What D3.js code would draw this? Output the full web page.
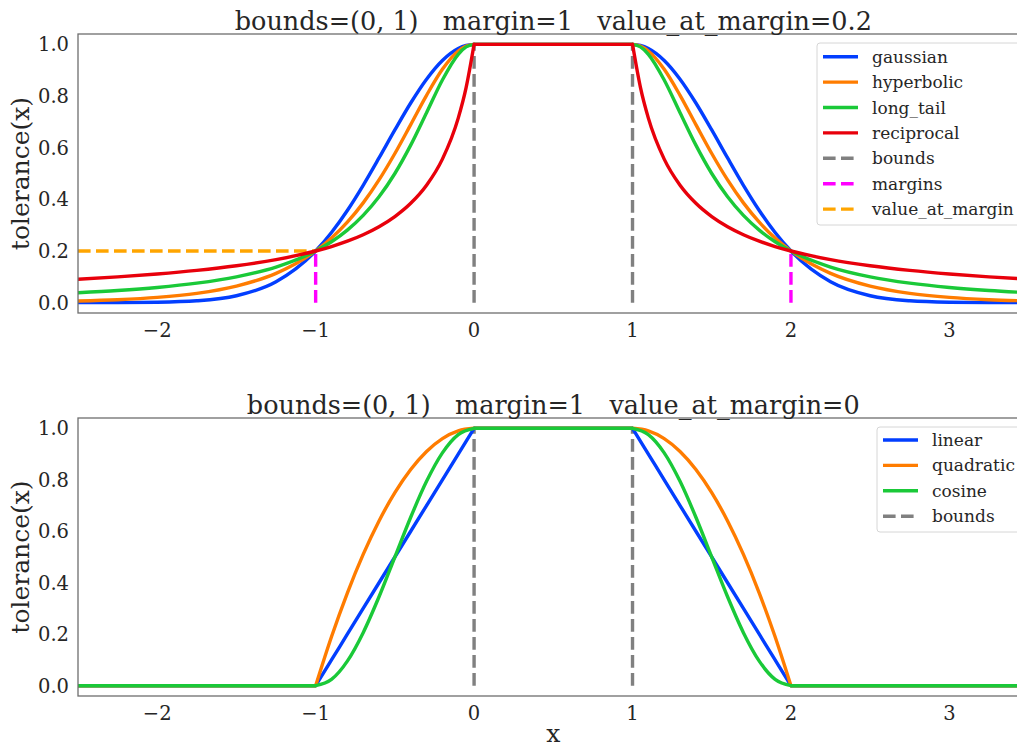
<!DOCTYPE html>
<html>
<head>
<meta charset="utf-8">
<script src="https://cdn.jsdelivr.net/npm/d3@7"></script>
<style>
  body { margin: 0; background: #fff; }
  text { font-family: "DejaVu Serif", serif; fill: #262626; }
</style>
</head>
<body>
<script>
// top panel: value_at_margin = 0.2
var xTop = [-2.5, -2.25, -2, -1.75, -1.5, -1.25, -1, -0.9, -0.8, -0.7, -0.6, -0.5, -0.4, -0.3, -0.2, -0.1, -0.05, 0,
    0.5,
    1, 1.05, 1.1, 1.2, 1.3, 1.4, 1.5, 1.6, 1.7, 1.8, 1.9, 2, 2.25, 2.5, 2.75, 3, 3.25, 3.5];
var gaussian = [0.0000, 0.0003, 0.0016, 0.0072, 0.0267, 0.0809, 0.2000, 0.2716, 0.3570, 0.4545, 0.5602, 0.6687, 0.7730, 0.8651, 0.9377, 0.9840, 0.9960, 1,
    1,
    1, 0.9960, 0.9840, 0.9377, 0.8651, 0.7730, 0.6687, 0.5602, 0.4545, 0.3570, 0.2716, 0.2000, 0.0809, 0.0267, 0.0072, 0.0016, 0.0003, 0.0000];
var hyperbolic = [0.0065, 0.0115, 0.0204, 0.0362, 0.0642, 0.1135, 0.2000, 0.2501, 0.3116, 0.3863, 0.4752, 0.5774, 0.6893, 0.8026, 0.9034, 0.9743, 0.9935, 1,
    1,
    1, 0.9935, 0.9743, 0.9034, 0.8026, 0.6893, 0.5774, 0.4752, 0.3863, 0.3116, 0.2501, 0.2000, 0.1135, 0.0642, 0.0362, 0.0204, 0.0115, 0.0065];
var longTail = [0.0385, 0.0471, 0.0588, 0.0755, 0.1000, 0.1379, 0.2000, 0.2358, 0.2809, 0.3378, 0.4098, 0.5000, 0.6098, 0.7353, 0.8621, 0.9615, 0.9901, 1,
    1,
    1, 0.9901, 0.9615, 0.8621, 0.7353, 0.6098, 0.5000, 0.4098, 0.3378, 0.2809, 0.2358, 0.2000, 0.1379, 0.1000, 0.0755, 0.0588, 0.0471, 0.0385];
var reciprocal = [0.0909, 0.1000, 0.1111, 0.1250, 0.1429, 0.1667, 0.2000, 0.2174, 0.2381, 0.2632, 0.2941, 0.3333, 0.3846, 0.4545, 0.5556, 0.7143, 0.8333, 1,
    1,
    1, 0.8333, 0.7143, 0.5556, 0.4545, 0.3846, 0.3333, 0.2941, 0.2632, 0.2381, 0.2174, 0.2000, 0.1667, 0.1429, 0.1250, 0.1111, 0.1000, 0.0909];

// bottom panel: value_at_margin = 0
var xBottom = [-2.5, -1, -0.9, -0.8, -0.7, -0.6, -0.5, -0.4, -0.3, -0.2, -0.1, 0, 0.5, 1, 1.1, 1.2, 1.3, 1.4, 1.5, 1.6, 1.7, 1.8, 1.9, 2, 3.5];
var linear = [0, 0, 0.1, 0.2, 0.3, 0.4, 0.5, 0.6, 0.7, 0.8, 0.9, 1, 1, 1, 0.9, 0.8, 0.7, 0.6, 0.5, 0.4, 0.3, 0.2, 0.1, 0, 0];
var quadratic = [0, 0, 0.19, 0.36, 0.51, 0.64, 0.75, 0.84, 0.91, 0.96, 0.99, 1, 1, 1, 0.99, 0.96, 0.91, 0.84, 0.75, 0.64, 0.51, 0.36, 0.19, 0, 0];
var cosine = [0, 0, 0.0245, 0.0955, 0.2061, 0.3455, 0.5, 0.6545, 0.7939, 0.9045, 0.9755, 1, 1, 1, 0.9755, 0.9045, 0.7939, 0.6545, 0.5, 0.3455, 0.2061, 0.0955, 0.0245, 0, 0];

var bounds = [0, 1];
var margins = [-1, 2];
var valueAtMargin = 0.2;
var xTicks = [-2, -1, 0, 1, 2, 3];
var yTicks = [0, 0.2, 0.4, 0.6, 0.8, 1.0];
var xDomain = [-2.5, 3.5];

var colors = {
    gaussian: "#023eff", hyperbolic: "#ff7c00", long_tail: "#1ac938", reciprocal: "#e8000b",
    linear: "#023eff", quadratic: "#ff7c00", cosine: "#1ac938",
    bounds: "#808080", margins: "#ff00ff", value_at_margin: "#ffa500"
};

(function () {
    var W = 1017, H = 747;
    var left = 78, right = 1028.6;
    var lw = 3.4, dash = "12.6,5.4";

    var svg = d3.select("body").append("svg")
        .attr("width", W)
        .attr("height", H);

    var x = d3.scaleLinear().domain(xDomain).range([left, right]);

    function panel(id, top, bottom, title, xs, series, breaks, showMargins, legendBox) {
        var y = d3.scaleLinear().domain([-0.04, 1.04]).range([bottom, top]);
        var g = svg.append("g");

        g.append("clipPath").attr("id", id)
            .append("rect")
            .attr("x", left).attr("y", top)
            .attr("width", right - left).attr("height", bottom - top);

        var plot = g.append("g").attr("clip-path", "url(#" + id + ")");

        // dashed reference lines first, curves go on top
        bounds.forEach(function (b) {
            plot.append("line")
                .attr("x1", x(b)).attr("x2", x(b))
                .attr("y1", y(0)).attr("y2", y(1))
                .attr("stroke", colors.bounds)
                .attr("stroke-width", lw)
                .attr("stroke-dasharray", dash);
        });
        if (showMargins) {
            margins.forEach(function (m) {
                plot.append("line")
                    .attr("x1", x(m)).attr("x2", x(m))
                    .attr("y1", y(0)).attr("y2", y(valueAtMargin))
                    .attr("stroke", colors.margins)
                    .attr("stroke-width", lw)
                    .attr("stroke-dasharray", dash);
            });
            plot.append("line")
                .attr("x1", x(xDomain[0])).attr("x2", x(margins[0]))
                .attr("y1", y(valueAtMargin)).attr("y2", y(valueAtMargin))
                .attr("stroke", colors.value_at_margin)
                .attr("stroke-width", lw)
                .attr("stroke-dasharray", dash);
        }

        var line = d3.line()
            .x(function (d) { return x(d[0]); })
            .y(function (d) { return y(d[1]); })
            .curve(d3.curveMonotoneX);

        series.forEach(function (s) {
            var pts = xs.map(function (v, i) { return [v, s.values[i]]; });
            // split at kinks so each piece is smooth on its own
            var segs = [], cur = [];
            pts.forEach(function (p) {
                cur.push(p);
                if (breaks.indexOf(p[0]) >= 0 && cur.length > 1) {
                    segs.push(cur);
                    cur = [p];
                }
            });
            if (cur.length > 1) segs.push(cur);
            plot.append("path")
                .attr("d", segs.map(function (sg) { return line(sg); }).join(""))
                .attr("fill", "none")
                .attr("stroke", colors[s.name])
                .attr("stroke-width", lw)
                .attr("stroke-linecap", "round")
                .attr("stroke-linejoin", "round");
        });

        // spines (the right one falls outside the picture)
        g.append("rect")
            .attr("x", left).attr("y", top)
            .attr("width", right - left).attr("height", bottom - top)
            .attr("fill", "none")
            .attr("stroke", "#6e6e6e")
            .attr("stroke-width", 1.3);

        g.selectAll(".xt").data(xTicks).enter().append("text")
            .attr("x", function (d) { return x(d); })
            .attr("y", bottom + 23.5)
            .attr("text-anchor", "middle")
            .style("font-size", "19.5px")
            .text(function (d) { return d < 0 ? "\u2212" + Math.abs(d) : d; });

        g.selectAll(".yt").data(yTicks).enter().append("text")
            .attr("x", 69)
            .attr("y", function (d) { return y(d) + 7; })
            .attr("text-anchor", "end")
            .style("font-size", "19.5px")
            .text(function (d) { return d.toFixed(1); });

        g.append("text")
            .attr("transform", "translate(29," + ((top + bottom) / 2) + ") rotate(-90)")
            .attr("text-anchor", "middle")
            .style("font-size", "25px")
            .text("tolerance(x)");

        g.append("text")
            .attr("x", (left + right) / 2)
            .attr("y", top - 4)
            .attr("text-anchor", "middle")
            .style("font-size", "25.5px")
            .style("white-space", "pre")
            .attr("xml:space", "preserve")
            .text(title);

        // legend
        var items = series.map(function (s) { return { name: s.name, dashed: false }; });
        items.push({ name: "bounds", dashed: true });
        if (showMargins) {
            items.push({ name: "margins", dashed: true });
            items.push({ name: "value_at_margin", dashed: true });
        }
        var lg = g.append("g");
        lg.append("rect")
            .attr("x", legendBox.x).attr("y", legendBox.y)
            .attr("width", 300).attr("height", legendBox.h)
            .attr("rx", 3)
            .attr("fill", "#fff").attr("fill-opacity", 0.8)
            .attr("stroke", "#d6d6d6");
        items.forEach(function (it, i) {
            var ry = legendBox.y + legendBox.first + i * 25.4;
            lg.append("line")
                .attr("x1", legendBox.x + 6).attr("x2", legendBox.x + 41)
                .attr("y1", ry).attr("y2", ry)
                .attr("stroke", colors[it.name])
                .attr("stroke-width", lw)
                .attr("stroke-dasharray", it.dashed ? dash : null);
            lg.append("text")
                .attr("x", legendBox.x + 55)
                .attr("y", ry + 6)
                .style("font-size", "17px")
                .text(it.name);
        });
    }

    panel("clipTop", 34, 313, "bounds=(0, 1)   margin=1   value_at_margin=0.2", xTop, [
        { name: "gaussian", values: gaussian },
        { name: "hyperbolic", values: hyperbolic },
        { name: "long_tail", values: longTail },
        { name: "reciprocal", values: reciprocal }
    ], [0, 1], true, { x: 817, y: 43, h: 182, first: 13.7 });

    panel("clipBottom", 418, 696, "bounds=(0, 1)   margin=1   value_at_margin=0", xBottom, [
        { name: "linear", values: linear },
        { name: "quadratic", values: quadratic },
        { name: "cosine", values: cosine }
    ], [-1, 0, 1, 2], false, { x: 877, y: 427, h: 105, first: 13 });

    svg.append("text")
        .attr("x", (left + right) / 2)
        .attr("y", 742)
        .attr("text-anchor", "middle")
        .style("font-size", "25px")
        .text("x");
}());
</script>
</body>
</html>
